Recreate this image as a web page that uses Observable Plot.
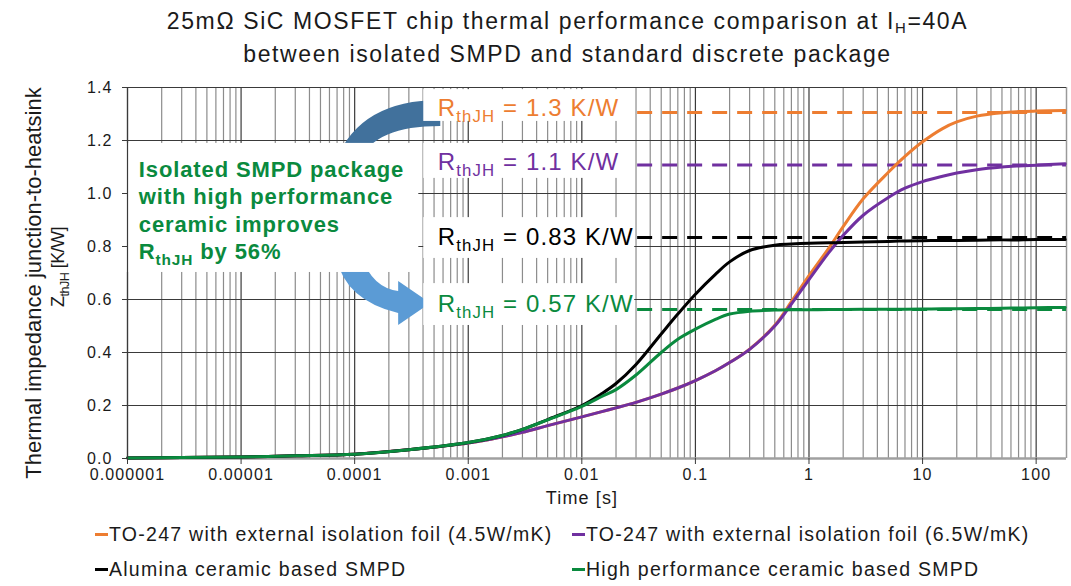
<!DOCTYPE html>
<html><head><meta charset="utf-8">
<script src="https://cdn.jsdelivr.net/npm/d3@7"></script>
<script src="https://cdn.jsdelivr.net/npm/@observablehq/plot@0.6"></script>
<style>
html,body{margin:0;padding:0;background:#fff;width:1071px;height:586px;overflow:hidden;font-family:"Liberation Sans",Arial,sans-serif;color:#1a1a1a;}
#title{position:absolute;left:0;top:5px;width:1071px;padding-left:64px;box-sizing:border-box;text-align:center;font-size:23px;line-height:33px;letter-spacing:0.07em;}
#title sub{font-size:0.65em;vertical-align:-0.3em;line-height:0;}
#chart{position:absolute;left:0;top:76px;}
.item{position:absolute;font-size:19.5px;letter-spacing:0.065em;white-space:nowrap;line-height:24px;}
.sw{display:inline-block;width:13px;height:3px;vertical-align:middle;margin-right:1px;position:relative;top:-1px;}
</style></head>
<body>
<div id="title"></div>
<div id="chart"></div>
<div id="legend"></div>
<script>
// ---------- data ----------
const titleLines = ["25mΩ SiC MOSFET chip thermal performance comparison at I<sub>H</sub>=40A", "between isolated SMPD and standard discrete package"];
const times = [1e-6, 3e-6, 1e-5, 3e-5, 1e-4, 3e-4, 1e-3, 2e-3, 3e-3, 5e-3, 0.01, 0.015, 0.02, 0.03, 0.05, 0.07, 0.1, 0.15, 0.2, 0.3, 0.5, 0.7, 1, 1.5, 2, 3, 5, 7, 10, 15, 20, 30, 50, 70, 100, 180];
const foil45 = [0.002, 0.004, 0.006, 0.010, 0.016, 0.033, 0.058, 0.082, 0.099, 0.124, 0.157, 0.177, 0.191, 0.212, 0.243, 0.266, 0.294, 0.331, 0.362, 0.413, 0.503, 0.592, 0.690, 0.795, 0.875, 0.980, 1.080, 1.140, 1.195, 1.245, 1.270, 1.292, 1.305, 1.309, 1.311, 1.313];
const foil65 = [0.002, 0.004, 0.006, 0.010, 0.016, 0.033, 0.058, 0.082, 0.099, 0.124, 0.157, 0.177, 0.191, 0.212, 0.243, 0.266, 0.294, 0.331, 0.362, 0.412, 0.500, 0.583, 0.675, 0.778, 0.842, 0.918, 0.985, 1.020, 1.045, 1.065, 1.077, 1.090, 1.100, 1.104, 1.107, 1.112];
const alumina = [0.002, 0.004, 0.006, 0.010, 0.016, 0.033, 0.060, 0.087, 0.110, 0.147, 0.200, 0.245, 0.283, 0.355, 0.470, 0.545, 0.620, 0.695, 0.742, 0.785, 0.805, 0.809, 0.812, 0.814, 0.815, 0.817, 0.819, 0.821, 0.822, 0.823, 0.823, 0.824, 0.825, 0.825, 0.826, 0.826];
const highPerf = [0.002, 0.004, 0.006, 0.010, 0.016, 0.033, 0.060, 0.087, 0.110, 0.146, 0.197, 0.234, 0.260, 0.315, 0.400, 0.450, 0.488, 0.525, 0.545, 0.556, 0.560, 0.561, 0.561, 0.562, 0.562, 0.563, 0.563, 0.563, 0.564, 0.565, 0.565, 0.566, 0.567, 0.568, 0.569, 0.570];
const seriesNames = ["TO-247 with external isolation foil (4.5W/mK)", "TO-247 with external isolation foil (6.5W/mK)", "Alumina ceramic based SMPD", "High performance ceramic based SMPD"];
const seriesColors = ["#ED7D31", "#7030A0", "#000000", "#0A8A3E"];
const seriesValues = [foil45, foil65, alumina, highPerf];

const rthValues = [1.306, 1.108, 0.834, 0.562];
const rthLabels = ["R_{thJH} = 1.3 K/W", "R_{thJH} = 1.1 K/W", "R_{thJH} = 0.83 K/W", "R_{thJH} = 0.57 K/W"];
const rthLabelY = [1.321, 1.117, 0.836, 0.583];
const rthLabelWeight = ["normal", "normal", "normal", "bold"];
const rthLabelX = 5.4e-4;
const dashStart = 0.031;
const rthBoxes = [[1.392, 1.272], [1.189, 1.057], [0.909, 0.755], [0.660, 0.502]];
const rthBoxX = [4.06e-4, 0.0292];
const noteText = "Isolated SMPD package\nwith high performance\nceramic improves\nR_{thJH} by 56%";
const noteBox = {x1: 9.8e-7, x2: 3.67e-4, y1: 0.702, y2: 1.189};
const noteAnchor = {x: 1.257e-6, y: 0.94};
// annotation arrows (path commands in data units: time, Zth)
const arrowTop = [["M", 5.73e-4, 1.351], ["Q", 1.13e-4, 1.351, 6.97e-5, 1.125], ["L", 1.13e-4, 1.125], ["Q", 1.53e-4, 1.253, 5.73e-4, 1.253], ["Z"]];
const arrowBottom = [["M", 6.97e-5, 0.755], ["L", 1.18e-4, 0.755], ["Q", 1.44e-4, 0.645, 2.44e-4, 0.630], ["L", 2.44e-4, 0.668], ["L", 4.68e-4, 0.585], ["L", 2.44e-4, 0.502], ["L", 2.44e-4, 0.547], ["Q", 8.36e-5, 0.596, 6.97e-5, 0.755], ["Z"]];

const xTicks = [1e-6, 1e-5, 1e-4, 1e-3, 1e-2, 1e-1, 1, 10, 100];
const xTickLabels = ["0.000001", "0.00001", "0.0001", "0.001", "0.01", "0.1", "1", "10", "100"];
const yTicks = [0, 0.2, 0.4, 0.6, 0.8, 1.0, 1.2, 1.4];
const yTickLabels = ["0.0", "0.2", "0.4", "0.6", "0.8", "1.0", "1.2", "1.4"];
const xLabel = "Time [s]";
const yLabel1 = "Thermal impedance junction-to-heatsink";
const yLabel2 = "Z_{thJH} [K/W]";
const xMax = 185;

// ---------- build ----------
document.getElementById("title").innerHTML = titleLines.join("<br>");

const minorTicks = [];
for (let e = -6; e <= 2; e++) for (let k = 2; k <= 9; k++) { const t = k * Math.pow(10, e); if (t < xMax) minorTicks.push(t); }

function pathMark(shape, fill) {
  return (index, scales) => {
    const {x, y} = scales;
    let d = "";
    for (const seg of shape) {
      d += seg[0];
      for (let i = 1; i < seg.length; i += 2) d += " " + x(seg[i]).toFixed(2) + "," + y(seg[i + 1]).toFixed(2);
      d += " ";
    }
    const p = document.createElementNS("http://www.w3.org/2000/svg", "path");
    p.setAttribute("d", d);
    p.setAttribute("fill", fill);
    return p;
  };
}

const xLab = new Map(xTicks.map((t, i) => [t, xTickLabels[i]]));
const yLab = new Map(yTicks.map((t, i) => [t, yTickLabels[i]]));
const rows = (vals) => times.map((t, i) => ({t, v: vals[i]}));
const rthData = rthValues.map((v, i) => ({v, c: seriesColors[i], label: rthLabels[i], ly: rthLabelY[i], w: rthLabelWeight[i], b1: rthBoxes[i][1], b2: rthBoxes[i][0]}));

const plot = Plot.plot({
  width: 1071, height: 438,
  marginTop: 11, marginBottom: 56, marginLeft: 127, marginRight: 5,
  x: {type: "log", domain: [1e-6, xMax]},
  y: {domain: [0, 1.4]},
  style: {fontFamily: "'Liberation Sans', Arial, sans-serif", fontSize: "16px", color: "#1a1a1a", background: "white", letterSpacing: "0.07em"},
  marks: [
    Plot.ruleX(minorTicks, {stroke: "#8c8c8c", strokeWidth: 1.2}),
    Plot.ruleX(xTicks, {stroke: "#3a3a3a", strokeWidth: 1.2}),
    Plot.ruleX([xMax], {stroke: "#9a9a9a", strokeWidth: 1.5}),
    Plot.ruleY(yTicks.filter(v => v > 0), {stroke: "#3a3a3a", strokeWidth: 1.2}),
    Plot.ruleY([0], {stroke: "#a0a0a0", strokeWidth: 2.5}),
    pathMark(arrowTop, "#41719C"),
    pathMark(arrowBottom, "#5B9BD5"),
    Plot.rect([noteBox], {x1: "x1", x2: "x2", y1: "y1", y2: "y2", fill: "white"}),
    Plot.rect(rthData, {x1: rthBoxX[0], x2: rthBoxX[1], y1: "b1", y2: "b2", fill: "white"}),
    Plot.ruleY(rthData, {y: "v", x1: dashStart, x2: xMax, stroke: "c", strokeWidth: 3, strokeDasharray: "15,10"}),
    ...seriesValues.map((vals, i) => Plot.line(rows(vals), {x: "t", y: "v", stroke: seriesColors[i], strokeWidth: 3, curve: "catmull-rom"})),
    Plot.text(rthData, {x: rthLabelX, y: "ly", text: "label", fill: "c", fontWeight: "w", fontSize: 24, textAnchor: "start", lineAnchor: "middle"}),
    Plot.text([noteText], {x: noteAnchor.x, y: noteAnchor.y, fill: "#0A8A3E", fontWeight: "bold", fontSize: 22, textAnchor: "start", lineAnchor: "middle", lineHeight: 1.25}),
    Plot.axisX({ticks: xTicks, tickFormat: d => xLab.get(d), tickSize: 6, tickPadding: 4, label: null, fontSize: 16, stroke: "#3a3a3a"}),
    Plot.axisY({ticks: yTicks, tickFormat: d => yLab.get(d), tickSize: 5, tickPadding: 10, label: null, fontSize: 16, stroke: "#3a3a3a"}),
    Plot.ruleX([1e-6], {stroke: "#3a3a3a", strokeWidth: 1.2}),
    Plot.text([xLabel], {frameAnchor: "bottom", dx: -15, dy: 40, fontSize: 18, textAnchor: "middle", lineAnchor: "middle"}),
    Plot.text([yLabel1], {frameAnchor: "left", rotate: -90, dx: -94, dy: 10, fontSize: 22, textAnchor: "middle", lineAnchor: "middle"}),
    Plot.text([yLabel2], {frameAnchor: "left", rotate: -90, dx: -69, dy: -6, fontSize: 18, textAnchor: "middle", lineAnchor: "middle"})
  ]
});

// subscripts: "X_{sub}Y" -> tspans
plot.querySelectorAll("text, tspan").forEach(el => {
  if (el.children.length) return;
  const m = el.textContent.match(/^(.*?)_\{(.*?)\}(.*)$/);
  if (!m) return;
  el.textContent = m[1];
  const ns = "http://www.w3.org/2000/svg";
  const sub = document.createElementNS(ns, "tspan");
  sub.setAttribute("font-size", "70%");
  sub.setAttribute("dy", "0.35em");
  sub.textContent = m[2];
  const rest = document.createElementNS(ns, "tspan");
  rest.setAttribute("dy", "-0.245em");
  rest.textContent = m[3];
  el.appendChild(sub); el.appendChild(rest);
});
plot.querySelectorAll("text").forEach(el => {
  const s = el.textContent;
  if (s.startsWith("Thermal")) el.style.letterSpacing = "0";
  if (s.startsWith("Z")) el.style.letterSpacing = "-0.03em";
  if (s.startsWith("Isolated")) el.style.letterSpacing = "0.04em";
});
document.getElementById("chart").appendChild(plot);

// legend
const legend = document.getElementById("legend");
const pos = [[95, 522], [572, 522], [95, 557], [572, 557]];
seriesNames.forEach((n, i) => {
  const d = document.createElement("div");
  d.className = "item";
  d.style.left = pos[i][0] + "px"; d.style.top = pos[i][1] + "px";
  d.innerHTML = `<span class="sw" style="background:${seriesColors[i]}"></span>`;
  d.appendChild(document.createTextNode(n));
  legend.appendChild(d);
});
</script>
</body></html>
